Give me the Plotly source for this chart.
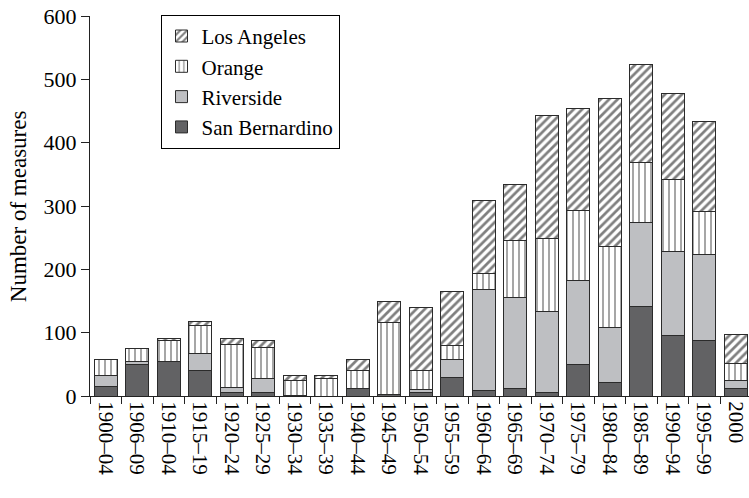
import plotly.graph_objects as go

categories = ["1900–04", "1906–09", "1910–04", "1915–19", "1920–24", "1925–29",
              "1930–34", "1935–39", "1940–44", "1945–49", "1950–54", "1955–59",
              "1960–64", "1965–69", "1970–74", "1975–79", "1980–84", "1985–89",
              "1990–94", "1995–99", "2000"]
san_bernardino = [15, 49, 54, 41, 5, 5, 1, 0, 12, 2, 5, 30, 8, 12, 6, 49, 22, 141, 95, 88, 12]
riverside = [18, 6, 1, 26, 9, 23, 0, 0, 0, 0, 5, 28, 160, 144, 127, 134, 86, 133, 133, 135, 13]
orange = [24, 20, 32, 45, 68, 48, 24, 27, 28, 114, 31, 21, 26, 90, 116, 110, 128, 95, 114, 68, 27]
los_angeles = [0, 0, 4, 5, 9, 11, 7, 5, 17, 33, 98, 86, 115, 88, 194, 161, 233, 154, 135, 142, 45]
y_ticks = [0, 100, 200, 300, 400, 500, 600]

FONT = "Liberation Serif"
OUT = "#2b2b2b"

fig = go.Figure()
fig.add_trace(go.Bar(x=categories, y=san_bernardino, name="San Bernardino",
                     marker=dict(color="#626264", line=dict(color=OUT, width=1))))
fig.add_trace(go.Bar(x=categories, y=riverside, name="Riverside",
                     marker=dict(color="#bebfc2", line=dict(color=OUT, width=1))))
fig.add_trace(go.Bar(x=categories, y=orange, name="Orange",
                     marker=dict(color="white", line=dict(color=OUT, width=1),
                                 pattern=dict(shape="|", fgcolor="#111111", bgcolor="white",
                                              size=6, solidity=0.25))))
fig.add_trace(go.Bar(x=categories, y=los_angeles, name="Los Angeles",
                     marker=dict(color="white", line=dict(color=OUT, width=1),
                                 pattern=dict(shape="/", fgcolor="#000000", bgcolor="white",
                                              size=6, solidity=0.45))))

fig.update_layout(
    width=749, height=498,
    barmode="stack", bargap=0.26,
    paper_bgcolor="white", plot_bgcolor="white",
    margin=dict(l=90, r=0, t=16, b=102, autoexpand=False),
    font=dict(family=FONT, size=22, color="black"),
    showlegend=True,
    legend=dict(traceorder="reversed", x=0.107, y=1.003, xanchor="left", yanchor="top",
                bordercolor="black", borderwidth=1, bgcolor="white",
                font=dict(family=FONT, size=21), tracegroupgap=0),
    annotations=[dict(text="Number of measures", textangle=-90, xref="paper", yref="paper",
                      x=-0.109, y=0.5, xanchor="center", yanchor="middle", showarrow=False,
                      font=dict(family=FONT, size=23, color="black"))],
)
fig.update_xaxes(type="category", range=[-0.5, 20.42], showline=True, linecolor="#222",
                 linewidth=1.3, ticks="outside", ticklen=7, tickcolor="#222",
                 tickson="boundaries", tickangle=90, showgrid=False, zeroline=False,
                 automargin=False,
                 tickfont=dict(family=FONT, size=21, color="black"))
fig.update_yaxes(range=[0, 600], tickvals=y_ticks, showline=True, linecolor="#222",
                 linewidth=1.3, ticks="outside", ticklen=8, tickcolor="#222",
                 showgrid=False, zeroline=False, automargin=False, ticklabeloverflow="allow",
                 tickfont=dict(family=FONT, size=22, color="black"))

# Remove the browser's default 8px body margin so the figure sits at the page origin.
fig.write_html("out.html", config={"displayModeBar": False},
               post_script="document.body.style.margin='0';")
